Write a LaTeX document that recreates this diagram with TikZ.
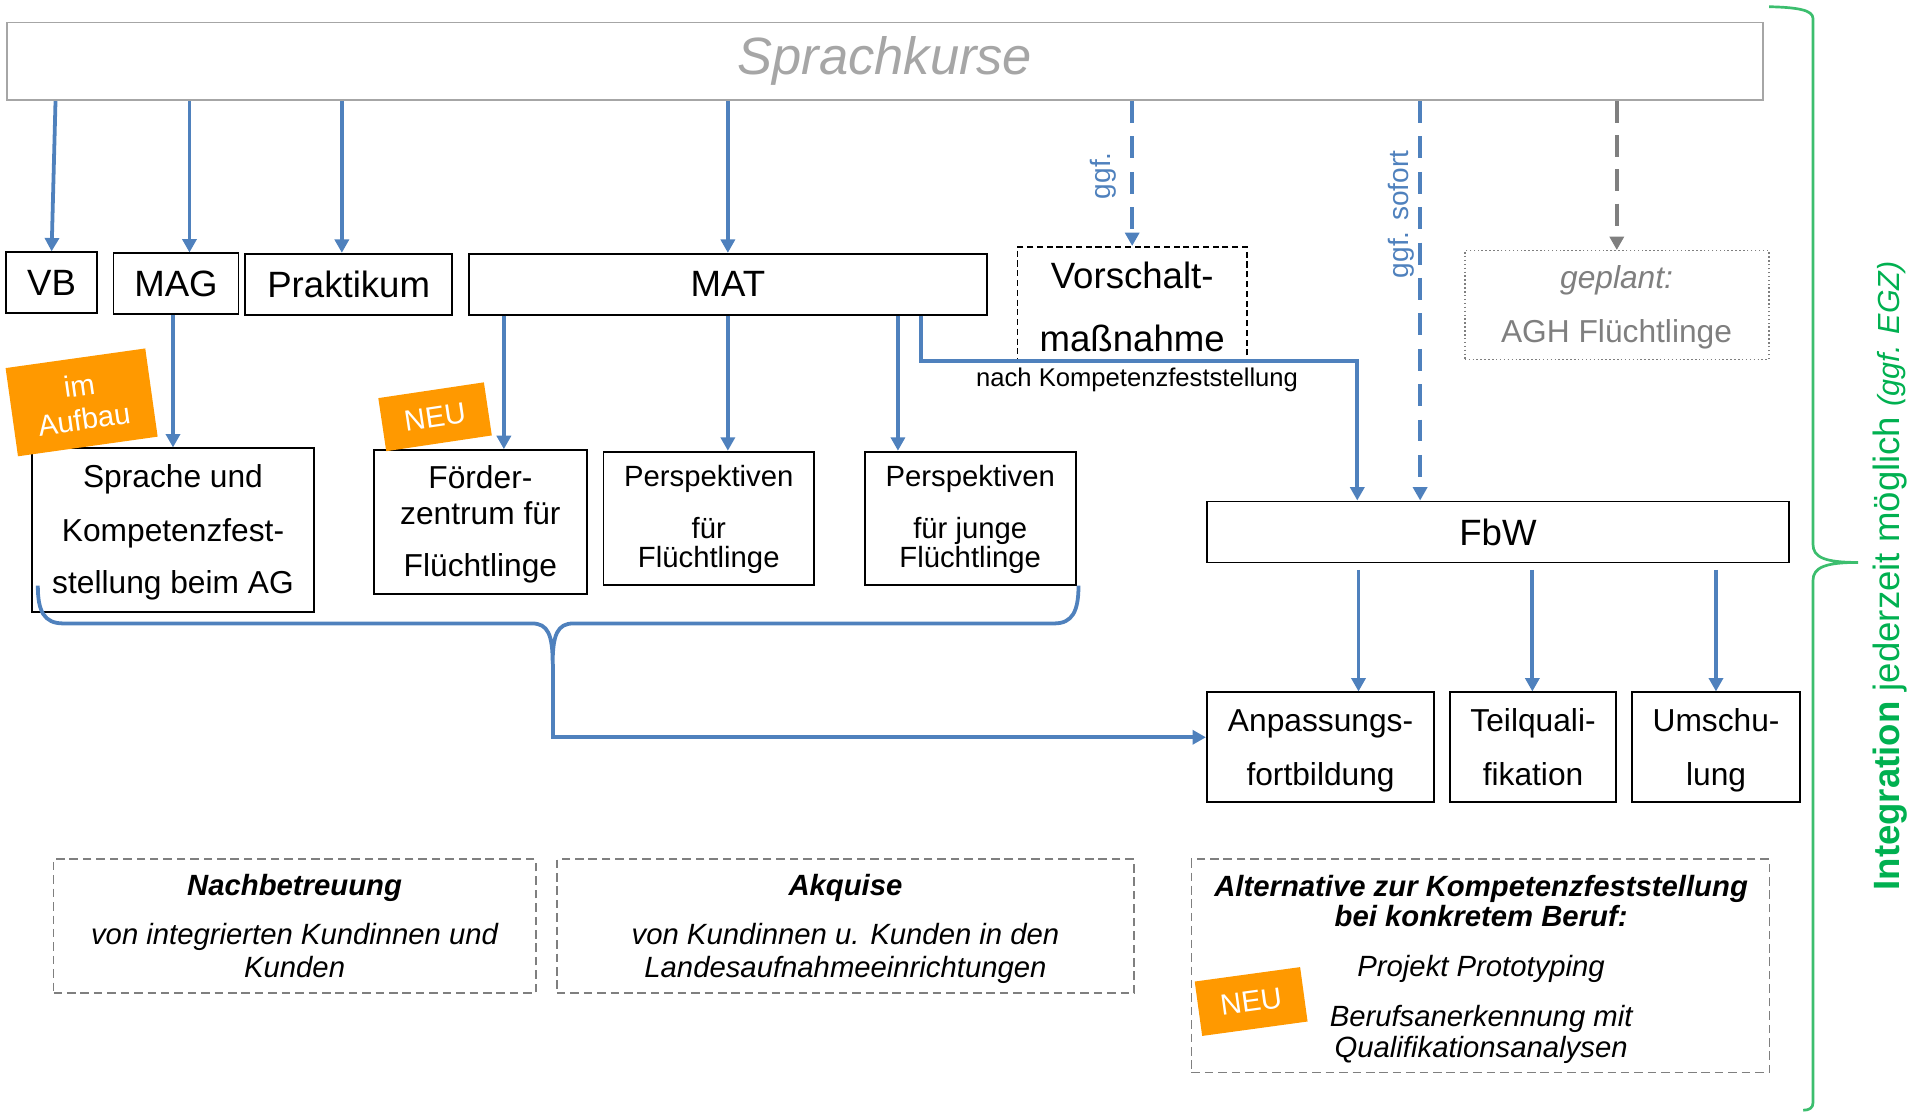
\documentclass[tikz,border=0pt]{standalone}
\usepackage{fontspec}
\setmainfont{Liberation Sans}
\usetikzlibrary{arrows.meta,calc}
\definecolor{arrblue}{RGB}{79,129,189}
\definecolor{skgray}{RGB}{166,166,166}
\definecolor{dgray}{RGB}{127,127,127}
\definecolor{tagorange}{RGB}{255,153,0}
\definecolor{intgreen}{RGB}{0,176,80}
\definecolor{bracegreen}{RGB}{60,190,110}
\newcommand{\fsz}[1]{\fontsize{#1}{#1}\selectfont}
\begin{document}
\begin{tikzpicture}[x=1pt,y=-1pt,
  box/.style={draw=black, line width=1.5pt, inner sep=0pt, fill=white},
  dbox/.style={draw=dgray, line width=1.5pt, dash pattern=on 7pt off 4pt, inner sep=0pt},
  ln/.style={inner sep=0pt, anchor=base},
  arr/.style={draw=arrblue, line width=3.1pt, -{Triangle[width=11.5pt,length=11pt]}},
  arrd/.style={arr, dash pattern=on 18pt off 11pt},
  garr/.style={draw=dgray, line width=3.1pt, dash pattern=on 18pt off 10pt, -{Triangle[width=11.5pt,length=11pt]}},
  tag/.style={fill=tagorange, text=white, inner sep=0pt, font=\fontsize{24}{28}\selectfont, align=center},
]
\useasboundingbox (0,0) rectangle (1568,911);

% ---------- boxes ----------
\node[draw=skgray, line width=1.5pt, inner sep=0pt, minimum width=1439.5pt, minimum height=63.7pt,
      font=\fsz{43}\itshape, text=skgray] (sk) at (725.25,50.25) {Sprachkurse};

\node[box, minimum width=74.2pt,  minimum height=50pt, font=\fsz{30}] (vb)   at (42.3,231.8) {VB};
\node[box, minimum width=102.5pt, minimum height=50pt, font=\fsz{30}] (mag)  at (144.25,232.7) {MAG};
\node[box, minimum width=169.6pt, minimum height=50pt, font=\fsz{30}] (prak) at (285.8,233) {Praktikum};
\node[box, minimum width=424.8pt, minimum height=50pt, font=\fsz{30}] (mat)  at (596.6,233) {MAT};
\node[draw=black, line width=1.4pt, dash pattern=on 5pt off 3pt, inner sep=0pt,
      minimum width=187.8pt, minimum height=93.2pt] (vor) at (928,248.9) {};
\node[draw=dgray, line width=1.2pt, dotted, inner sep=0pt,
      minimum width=249.2pt, minimum height=89.3pt] (gep) at (1325.2,250.15) {};

\node[box, minimum width=231.8pt, minimum height=133.9pt] (spr) at (141.8,434.45) {};
\node[box, minimum width=174.3pt, minimum height=118.2pt] (foe) at (393.75,428) {};
\node[box, minimum width=172.5pt, minimum height=109.3pt] (pe1) at (580.95,424.85) {};
\node[box, minimum width=173.1pt, minimum height=109.3pt] (pe2) at (795.25,424.85) {};

\node[box, minimum width=477.2pt, minimum height=50.1pt, font=\fsz{30}] (fbw) at (1227.8,436.05) {FbW};
\node[box, minimum width=186.4pt, minimum height=89.6pt] (anp) at (1082.4,612.3) {};
\node[box, minimum width=136.1pt, minimum height=89.6pt] (tq)  at (1256.55,612.3) {};
\node[box, minimum width=137.8pt, minimum height=89.6pt] (um)  at (1406.6,612.3) {};

\node[dbox, minimum width=395.1pt, minimum height=109.8pt] (nb)  at (241.45,759.3) {};
\node[dbox, minimum width=473pt,   minimum height=109.8pt] (ak)  at (693,759.3) {};
\node[dbox, minimum width=473.8pt, minimum height=174.6pt] (alt) at (1213.5,791.7) {};

% ---------- texts in boxes ----------
\node[ln, font=\fsz{30}] (vor1) at (928,236.5) {Vorschalt-};
\node[ln, font=\fsz{30}] (vor2) at (928,288) {maßnahme};
\node[ln, font=\fsz{26}\itshape, text=dgray] (gep1) at (1325,236.5) {geplant:};
\node[ln, font=\fsz{26}, text=dgray] (gep2) at (1325,280.5) {AGH Flüchtlinge};

\node[ln, font=\fsz{26}] (spr1) at (141.8,399.5) {Sprache und};
\node[ln, font=\fsz{26}] (spr2) at (141.8,443.5) {Kompetenzfest-};
\node[ln, font=\fsz{26}] (spr3) at (141.8,486.5) {stellung beim AG};

\node[ln, font=\fsz{26}] (foe1) at (393.75,400) {Förder-};
\node[ln, font=\fsz{26}] (foe2) at (393.75,429.5) {zentrum für};
\node[ln, font=\fsz{26}] (foe3) at (393.75,472.5) {Flüchtlinge};

\node[ln, font=\fsz{24}] (pa1) at (580.95,398.5) {Perspektiven};
\node[ln, font=\fsz{24}] (pa2) at (580.95,441) {für};
\node[ln, font=\fsz{24}] (pa3) at (580.95,465) {Flüchtlinge};

\node[ln, font=\fsz{24}] (pb1) at (795.25,398.5) {Perspektiven};
\node[ln, font=\fsz{24}] (pb2) at (795.25,441) {für junge};
\node[ln, font=\fsz{24}] (pb3) at (795.25,465) {Flüchtlinge};

\node[ln, font=\fsz{26}] (anp1) at (1082.4,599.5) {Anpassungs-};
\node[ln, font=\fsz{26}] (anp2) at (1082.4,644) {fortbildung};
\node[ln, font=\fsz{26}] (tq1) at (1256.55,599.5) {Teilquali-};
\node[ln, font=\fsz{26}] (tq2) at (1256.55,644) {fikation};
\node[ln, font=\fsz{26}] (um1) at (1406.6,599.5) {Umschu-};
\node[ln, font=\fsz{26}] (um2) at (1406.6,644) {lung};

\node[ln, font=\fsz{24}\bfseries\itshape] (nb1) at (241.45,734) {Nachbetreuung};
\node[ln, font=\fsz{24}\itshape] (nb2) at (241.45,774.5) {von integrierten Kundinnen und};
\node[ln, font=\fsz{24}\itshape] (nb3) at (241.45,801.5) {Kunden};

\node[ln, font=\fsz{24}\bfseries\itshape] (ak1) at (693,734) {Akquise};
\node[ln, font=\fsz{24}\itshape] (ak2) at (693,774.5) {von Kundinnen u. Kunden in den};
\node[ln, font=\fsz{24}\itshape] (ak3) at (693,801.5) {Landesaufnahmeeinrichtungen};

\node[ln, font=\fsz{24}\bfseries\itshape] (alt1) at (1214,734.5) {Alternative zur Kompetenzfeststellung};
\node[ln, font=\fsz{24}\bfseries\itshape] (alt2) at (1214,759) {bei konkretem Beruf:};
\node[ln, font=\fsz{24}\itshape] (alt3) at (1214,800) {Projekt Prototyping};
\node[ln, font=\fsz{24}\itshape] (alt4) at (1214,841) {Berufsanerkennung mit};
\node[ln, font=\fsz{24}\itshape] (alt5) at (1214,866.5) {Qualifikationsanalysen};

% ---------- connectors ----------
\coordinate (xvb)   at (45.5,0);
\coordinate (xmag)  at (155.3,0);
\coordinate (xprak) at (280.2,0);
\coordinate (xsof)  at (1164,0);
\coordinate (xfoe)  at (413,0);
\coordinate (xpe2)  at (736,0);
\coordinate (xkf)   at (755,0);
\coordinate (kf)    at (1112.5,295.8);
\coordinate (fb1)   at (1113.5,467);
\coordinate (fb2)   at (1256,467);
\coordinate (fb3)   at (1406.5,467);
\coordinate (btip)  at (453,544);

\draw[arr] (sk.south -| xvb) -- (vb.north);
\draw[arr] (sk.south -| xmag) -- (mag.north -| xmag);
\draw[arr] (sk.south -| xprak) -- (prak.north -| xprak);
\draw[arr] (sk.south -| mat.north) -- (mat.north);
\draw[arrd] (sk.south -| vor.north) -- (vor.north);
\draw[arrd] (sk.south -| xsof) -- (fbw.north -| xsof);
\draw[garr] (sk.south -| gep.north) -- (gep.north);

\node[rotate=90, font=\fsz{23}, text=arrblue, inner sep=0pt] (lggf) at (904.6,144) {ggf.};
\node[rotate=90, font=\fsz{23}, text=arrblue, inner sep=0pt] (lsof) at (1148.8,175.7) {ggf. sofort};

\draw[arr] (mag.south -| spr.north) -- (spr.north);
\draw[arr] (mat.south -| xfoe) -- (foe.north -| xfoe);
\draw[arr] (mat.south) -- (pe1.north -| mat.south);
\draw[arr] (mat.south -| xpe2) -- (pe2.north -| xpe2);
\draw[arr, line join=miter] (mat.south -| xkf) |- (kf) -- (kf |- fbw.north);
\node[ln, font=\fsz{21}] (nachkf) at (932,316.5) {nach Kompetenzfeststellung};

\draw[arr] (fb1) -- (fb1 |- anp.north);
\draw[arr] (fb2) -- (fb2 |- tq.north);
\draw[arr] (fb3) -- (fb3 |- um.north);

% blue brace
\draw[draw=arrblue, line width=3.1pt, line join=round]
  (31,480) .. controls (31,501) and (36,511) .. (52,511) -- (436,511)
  .. controls (449,511) and (453,520) .. (btip)
  .. controls (453,520) and (457,511) .. (470,511) -- (864,511)
  .. controls (879,511) and (884,501) .. (884,480);
\draw[arr, line join=miter] (btip) |- ($(anp.west)+(0,-8)$);

% green brace
\draw[draw=bracegreen, line width=2.2pt]
  (1450,5.5) .. controls (1472,6) and (1486,8) .. (1486,15) -- (1486,446)
  .. controls (1486,457) and (1496,461) .. (1523,461)
  .. controls (1496,461) and (1486,465) .. (1486,476) -- (1486,904)
  .. controls (1486,908) and (1483,910) .. (1478,910);
\node[rotate=90, text=intgreen, inner sep=0pt] (integ) at (1549,472)
  {\fsz{30}\textbf{Integration} jederzeit möglich {\fsz{25}\itshape(ggf. EGZ)}};

% ---------- tags ----------
\node[tag, minimum width=115.6pt, minimum height=73pt, rotate=8] (tagauf) at (66.9,329.8) {im\\Aufbau};
\node[tag, minimum width=87.5pt, minimum height=44pt, rotate=8.5] (tagneu1) at (356.6,341.6) {NEU};
\node[tag, minimum width=87.2pt, minimum height=45pt, rotate=7.8] (tagneu2) at (1025.5,820.9) {NEU};
\end{tikzpicture}
\end{document}
